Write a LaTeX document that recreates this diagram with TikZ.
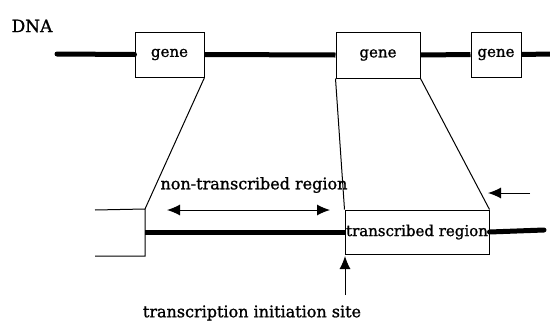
\documentclass[tikz,border=0pt]{standalone}
\usepackage{fontspec}
\setmainfont{DejaVu Serif}[RawFeature={embolden=1.2}]
\usetikzlibrary{arrows.meta}
\begin{document}
\begin{tikzpicture}[x=1pt,y=-1pt,
  genebox/.style={draw,line width=1pt,inner sep=0pt,font=\fontsize{15}{17}\selectfont},
  label/.style={inner sep=0pt,font=\fontsize{16}{18}\selectfont},
  dna/.style={line width=5pt},
  thin/.style={line width=1pt},
  tip/.style={Latex[length=13pt,width=11pt]},
  arr/.style={line width=1pt,-{Latex[length=13pt,width=11pt]}}]
\useasboundingbox (0,0) rectangle (550,322);
\node[label,font=\fontsize{17}{19}\selectfont] (dnal) at (32,26) {DNA};
\node[genebox,minimum width=69pt,minimum height=45pt] (g1) at (169.5,54.5) {gene};
\node[genebox,minimum width=84pt,minimum height=46pt] (g2) at (378,55) {gene};
\node[genebox,minimum width=50pt,minimum height=45pt] (g3) at (496,54.5) {gene};
\coordinate (dl) at (57,54);
\coordinate (dr) at (550,54);
\draw[dna,line cap=round] (dl) -- (g1.west);
\draw[dna] (g1.east) -- (g2.west);
\draw[dna] (g2.east) -- (g3.west);
\draw[dna] (g3.east) -- (dr);
% lower part
\node[genebox,font=\fontsize{15}{17}\selectfont,minimum width=144pt,minimum height=44pt] (tr) at (417,232) {transcribed region};
\coordinate (lt) at (145,209);
\coordinate (lb) at (145,256);
\coordinate (lto) at (95,210);
\coordinate (lbo) at (95,256);
\coordinate (lm) at (145,232);
\coordinate (rr) at (544,230);
\draw[thin] (lto) -- (lt) -- (lb) -- (lbo);
\draw[dna] (lm) -- (tr.west);
\draw[dna,line cap=round] (tr.east) -- (rr);
\draw[thin] (g1.south east) -- (lt);
\draw[thin] (g2.south west) -- (tr.north west);
\draw[thin] (g2.south east) -- (tr.north east);
\node[label] (ntr) at (254,185) {non-transcribed region};
\coordinate (da) at (167,210);
\coordinate (db) at (330,210);
\draw[line width=1pt,{Latex[length=13pt,width=11pt]}-{Latex[length=13pt,width=11pt]}] (da) -- (db);
\coordinate (ra) at (530,193);
\coordinate (rb) at (488,193);
\draw[arr] (ra) -- (rb);
\node[label] (tis) at (252,313) {transcription initiation site};
\coordinate (ua) at (345,295);
\coordinate (ub) at (345,256);
\draw[arr] (ua) -- (ub);
\end{tikzpicture}
\end{document}
